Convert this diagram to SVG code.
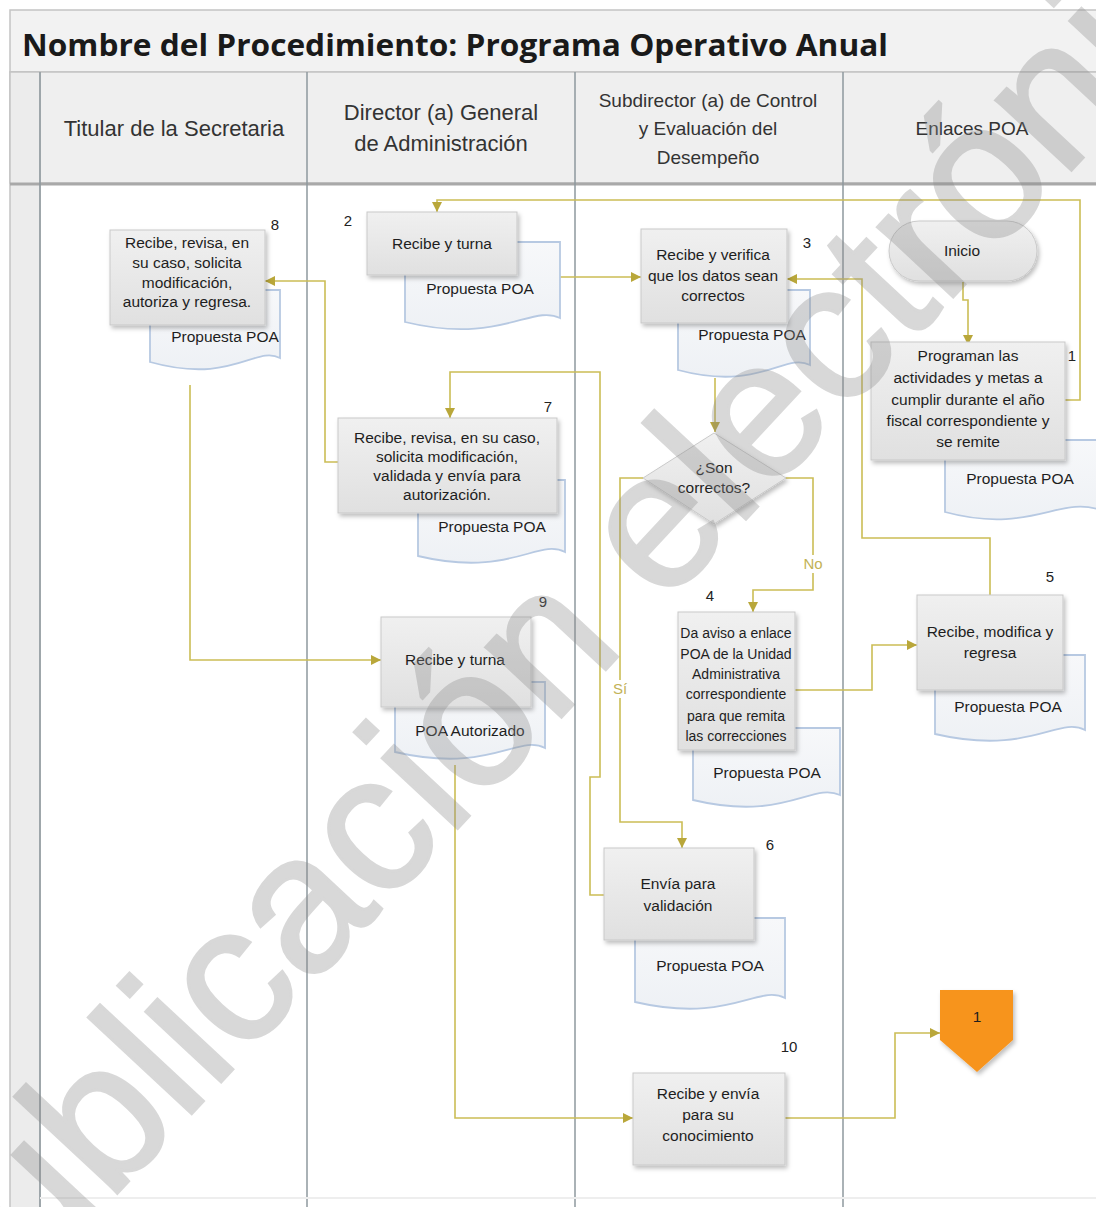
<svg xmlns="http://www.w3.org/2000/svg" width="1096" height="1207" viewBox="0 0 1096 1207">
<defs>
<linearGradient id="gBox" x1="0" y1="0" x2="0" y2="1"><stop offset="0" stop-color="#f0f0f0"/><stop offset="1" stop-color="#e0e0e0"/></linearGradient>
<linearGradient id="gDoc" x1="0" y1="0" x2="0" y2="1"><stop offset="0" stop-color="#f7f8fa"/><stop offset="1" stop-color="#eef1f5"/></linearGradient>
<filter id="sh" x="-10%" y="-10%" width="125%" height="130%"><feDropShadow dx="2" dy="3" stdDeviation="2" flood-color="#000" flood-opacity="0.25"/></filter>
<marker id="ar" viewBox="0 0 10 10" refX="10" refY="5" markerWidth="10" markerHeight="10" markerUnits="userSpaceOnUse" orient="auto"><path d="M0,0 L10,5 L0,10 z" fill="#b9a73a"/></marker>
<style>
.lane{stroke:#8e989e;stroke-width:1.5;fill:none}
.frame{stroke:#c4c4c4;stroke-width:1.5}
.hd{font-family:"Liberation Sans",Arial,sans-serif;fill:#333;text-anchor:middle}
.box{fill:url(#gBox);stroke:#c9c9c9;stroke-width:1;filter:url(#sh)}
.doc{fill:url(#gDoc);stroke:#b7c9e2;stroke-width:1.8}
.t{font-family:"Liberation Sans",Arial,sans-serif;font-size:15.5px;fill:#1e1e1e;text-anchor:middle}
.s{font-size:14px}
.n{font-family:"Liberation Sans",Arial,sans-serif;font-size:15px;fill:#222;text-anchor:middle}
.c{fill:none;stroke:#cbbd55;stroke-width:1.6}
.lbl{font-family:"Liberation Sans",Arial,sans-serif;font-size:15px;fill:#c2b256;text-anchor:middle}
</style>
</defs>
<rect x="0" y="0" width="1096" height="1207" fill="#fff"/>
<g id="frame">
<rect x="10" y="10" width="1100" height="62" fill="#f2f2f2" class="frame"/>
<rect x="10" y="72" width="1100" height="111" fill="#efefef" class="frame"/>
<rect x="10" y="72" width="30" height="1140" fill="#ececec" class="frame"/>
<line x1="10" y1="184" x2="1096" y2="184" stroke="#a9a9a9" stroke-width="3"/>
<line x1="40" y1="72" x2="40" y2="1207" class="lane"/>
<line x1="307" y1="72" x2="307" y2="1207" class="lane"/>
<line x1="575" y1="72" x2="575" y2="1207" class="lane"/>
<line x1="843" y1="72" x2="843" y2="1207" class="lane"/>
<line x1="40" y1="1198" x2="1096" y2="1198" stroke="#eeeeee" stroke-width="2"/>
<text x="22" y="56" font-family="'Open Sans','Liberation Sans',sans-serif" font-weight="700" font-size="30" fill="#1a1a1a" textLength="866" lengthAdjust="spacingAndGlyphs">Nombre del Procedimiento: Programa Operativo Anual</text>
<text class="hd" x="174" y="136" font-size="22">Titular de la Secretaria</text>
<text class="hd" x="441" y="120" font-size="22">Director (a) General</text>
<text class="hd" x="441" y="151" font-size="22">de Administración</text>
<text class="hd" x="708" y="107" font-size="19">Subdirector (a) de Control</text>
<text class="hd" x="708" y="135" font-size="19">y Evaluación del</text>
<text class="hd" x="708" y="164" font-size="19">Desempeño</text>
<text class="hd" x="972" y="135" font-size="19">Enlaces POA</text>
</g>
<g id="connectors">
<path class="c" d="M963 282 V300 H968 V345" marker-end="url(#ar)"/>
<path class="c" d="M1065 400 H1080 V200 H437 V212" marker-end="url(#ar)"/>
<path class="c" d="M560 277 H641" marker-end="url(#ar)"/>
<path class="c" d="M990 595 V538 H862 V279 H787" marker-end="url(#ar)"/>
<path class="c" d="M715 378 V432" marker-end="url(#ar)"/>
<path class="c" d="M785 478 H813 V590 H753 V612" marker-end="url(#ar)"/>
<path class="c" d="M643 478 H620 V822 H682 V848" marker-end="url(#ar)"/>
<path class="c" d="M795 690 H872 V645 H917" marker-end="url(#ar)"/>
<path class="c" d="M604 895 H590 V777 H600 V372 H450 V418" marker-end="url(#ar)"/>
<path class="c" d="M338 462 H325 V281 H265" marker-end="url(#ar)"/>
<path class="c" d="M190 385 V660 H381" marker-end="url(#ar)"/>
<path class="c" d="M455 765 V1118 H633" marker-end="url(#ar)"/>
<path class="c" d="M785 1118 H895 V1033 H940" marker-end="url(#ar)"/>
<rect x="800" y="555" width="26" height="18" fill="#fff"/>
<text class="lbl" x="813" y="569">No</text>
<rect x="611" y="680" width="18" height="18" fill="#fff"/>
<text class="lbl" x="620" y="694">Sí</text>
</g>
<g id="n1">
<path class="doc" d="M945 440 H1100 V510 C1060 495 1030 535 945 512 Z"/>
<text class="t" x="1020" y="484">Propuesta POA</text>
<rect class="box" x="871" y="342" width="194" height="118"/>
<text class="t" x="968" y="361">Programan las</text>
<text class="t" x="968" y="383">actividades y metas a</text>
<text class="t" x="968" y="405">cumplir durante el año</text>
<text class="t" x="968" y="426">fiscal correspondiente y</text>
<text class="t" x="968" y="447">se remite</text>
<text class="n" x="1072" y="361">1</text>
</g>
<g id="inicio">
<rect x="889" y="221" width="148" height="60" rx="30" fill="url(#gBox)" stroke="#c9c9c9" filter="url(#sh)"/>
<text class="t" x="962" y="256">Inicio</text>
</g>
<g id="n2">
<path class="doc" d="M405 242 H560 V318 C532 304 500 345 405 322 Z"/>
<text class="t" x="480" y="294">Propuesta POA</text>
<rect class="box" x="367" y="212" width="150" height="63"/>
<text class="t" x="442" y="249">Recibe y turna</text>
<text class="n" x="348" y="226">2</text>
</g>
<g id="n3">
<path class="doc" d="M678 290 H810 V365 C785 352 760 392 678 370 Z"/>
<text class="t" x="752" y="340">Propuesta POA</text>
<rect class="box" x="641" y="229" width="146" height="94"/>
<text class="t" x="713" y="260">Recibe y verifica</text>
<text class="t" x="713" y="281">que los datos sean</text>
<text class="t" x="713" y="301">correctos</text>
<text class="n" x="807" y="248">3</text>
</g>
<g id="dec">
<path d="M714 433 L786 478 L714 524 L643 478 Z" fill="url(#gBox)" stroke="#c9c9c9" filter="url(#sh)"/>
<text class="t" x="714" y="473">¿Son</text>
<text class="t" x="714" y="493">correctos?</text>
</g>
<g id="n4">
<path class="doc" d="M693 728 H840 V795 C812 782 785 822 693 800 Z"/>
<text class="t" x="767" y="778">Propuesta POA</text>
<rect class="box" x="678" y="612" width="117" height="138"/>
<text class="t s" x="736" y="638">Da aviso a enlace</text>
<text class="t s" x="736" y="659">POA de la Unidad</text>
<text class="t s" x="736" y="679">Administrativa</text>
<text class="t s" x="736" y="699">correspondiente</text>
<text class="t s" x="736" y="721">para que remita</text>
<text class="t s" x="736" y="741">las correcciones</text>
<text class="n" x="710" y="601">4</text>
</g>
<g id="n5">
<path class="doc" d="M935 655 H1085 V730 C1058 716 1030 756 935 734 Z"/>
<text class="t" x="1008" y="712">Propuesta POA</text>
<rect class="box" x="917" y="595" width="146" height="95"/>
<text class="t" x="990" y="637">Recibe, modifica y</text>
<text class="t" x="990" y="658">regresa</text>
<text class="n" x="1050" y="582">5</text>
</g>
<g id="n6">
<path class="doc" d="M635 918 H785 V998 C758 984 730 1024 635 1002 Z"/>
<text class="t" x="710" y="971">Propuesta POA</text>
<rect class="box" x="604" y="848" width="150" height="92"/>
<text class="t" x="678" y="889">Envía para</text>
<text class="t" x="678" y="911">validación</text>
<text class="n" x="770" y="850">6</text>
</g>
<g id="n7">
<path class="doc" d="M418 480 H565 V552 C538 538 510 578 418 556 Z"/>
<text class="t" x="492" y="532">Propuesta POA</text>
<rect class="box" x="338" y="418" width="219" height="95"/>
<text class="t" x="447" y="443">Recibe, revisa, en su caso,</text>
<text class="t" x="447" y="462">solicita modificación,</text>
<text class="t" x="447" y="481">validada y envía para</text>
<text class="t" x="447" y="500">autorización.</text>
<text class="n" x="548" y="412">7</text>
</g>
<g id="n8">
<path class="doc" d="M150 290 H280 V358 C256 345 232 385 150 362 Z"/>
<text class="t" x="225" y="342">Propuesta POA</text>
<rect class="box" x="110" y="230" width="155" height="95"/>
<text class="t" x="187" y="248">Recibe, revisa, en</text>
<text class="t" x="187" y="268">su caso, solicita</text>
<text class="t" x="187" y="288">modificación,</text>
<text class="t" x="187" y="307">autoriza y regresa.</text>
<text class="n" x="275" y="230">8</text>
</g>
<g id="n9">
<path class="doc" d="M395 682 H545 V748 C518 734 490 774 395 752 Z"/>
<text class="t" x="470" y="736">POA Autorizado</text>
<rect class="box" x="381" y="617" width="150" height="90"/>
<text class="t" x="455" y="665">Recibe y turna</text>
<text class="n" x="543" y="607">9</text>
</g>
<g id="n10">
<rect class="box" x="633" y="1073" width="152" height="92"/>
<text class="t" x="708" y="1099">Recibe y envía</text>
<text class="t" x="708" y="1120">para su</text>
<text class="t" x="708" y="1141">conocimiento</text>
<text class="n" x="789" y="1052">10</text>
</g>
<g id="offpage">
<path d="M940 990 H1013 V1040 L977 1072 L940 1040 Z" fill="#f7941d" filter="url(#sh)"/>
<text class="t" x="977" y="1022" font-size="13">1</text>
</g>
<g id="watermark" opacity="0.33">
<text x="-54" y="1377" transform="rotate(-47 -54 1377)" font-family="'Liberation Sans',Arial,sans-serif" font-size="195" fill="#8a8a8a" stroke="#8a8a8a" stroke-width="3">Publicación electrónica</text>
</g>
</svg>
